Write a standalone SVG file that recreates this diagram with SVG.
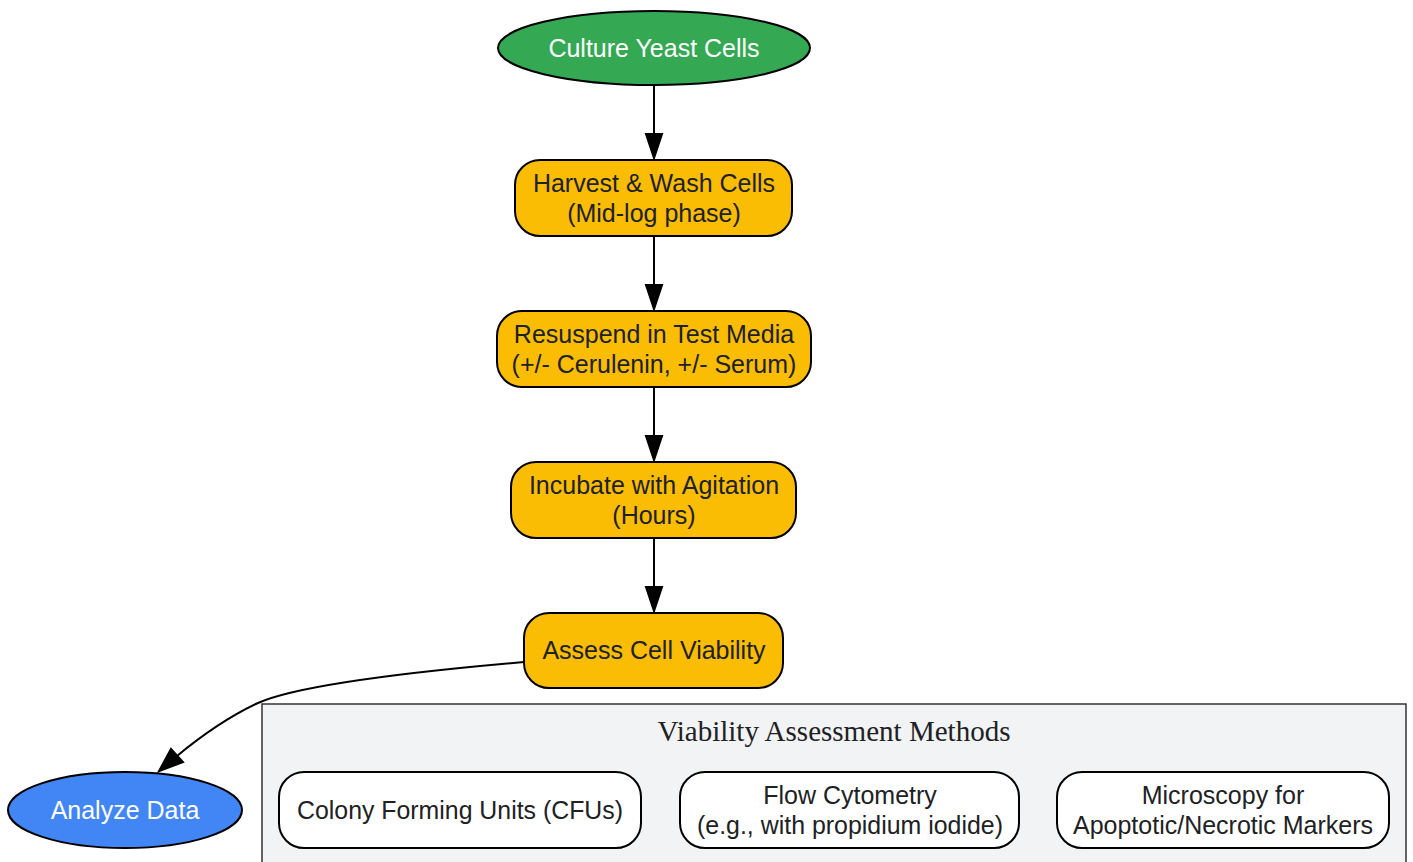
<svg xmlns="http://www.w3.org/2000/svg" width="1413" height="862" viewBox="0 0 1413 862">
<style>
.n{stroke:#000;stroke-width:2}
.o{fill:#fbbc04}
.w{fill:#fff}
.t{font-family:"Liberation Sans",Arial,sans-serif;font-size:25px;fill:#202124;text-anchor:middle}
.tw{font-family:"Liberation Sans",Arial,sans-serif;font-size:25px;fill:#fff;text-anchor:middle}
.e{fill:none;stroke:#000;stroke-width:2}
.h{fill:#000;stroke:#000;stroke-width:2}
</style>
<rect width="1413" height="862" fill="#fff"/>
<g id="cluster">
<rect x="262" y="704" width="1144" height="170" fill="#f1f3f4" stroke="#333" stroke-width="1.5"/>
<text x="834" y="741" font-family="'Liberation Serif','Times New Roman',serif" font-size="29" fill="#202124" text-anchor="middle" textLength="353" lengthAdjust="spacingAndGlyphs">Viability Assessment Methods</text>
</g>
<g id="edges">
<path class="e" d="M654,85 V134"/>
<polygon class="h" points="646,134 662,134 654,158"/>
<path class="e" d="M654,236 V285"/>
<polygon class="h" points="646,285 662,285 654,309"/>
<path class="e" d="M654,387 V436"/>
<polygon class="h" points="646,436 662,436 654,460"/>
<path class="e" d="M654,538 V587"/>
<polygon class="h" points="646,587 662,587 654,611"/>
<path class="e" d="M524,662 C420,671 300,684 258,703 C228,717 200,737 177,756"/>
<polygon class="h" points="171,749 183,762 159,771"/>
</g>
<g id="culture">
<ellipse class="n" cx="654" cy="48" rx="156" ry="37" fill="#34a853"/>
<text class="tw" x="654" y="57">Culture Yeast Cells</text>
</g>
<g id="harvest">
<rect class="n o" x="515" y="160" width="277" height="76" rx="25"/>
<text class="t" x="654" y="192">Harvest &amp; Wash Cells</text>
<text class="t" x="654" y="222">(Mid-log phase)</text>
</g>
<g id="resuspend">
<rect class="n o" x="497" y="311" width="314" height="76" rx="25"/>
<text class="t" x="654" y="343">Resuspend in Test Media</text>
<text class="t" x="654" y="373">(+/- Cerulenin, +/- Serum)</text>
</g>
<g id="incubate">
<rect class="n o" x="511" y="462" width="285" height="76" rx="25"/>
<text class="t" x="654" y="494">Incubate with Agitation</text>
<text class="t" x="654" y="524">(Hours)</text>
</g>
<g id="assess">
<rect class="n o" x="524" y="613" width="259" height="75" rx="25"/>
<text class="t" x="654" y="659">Assess Cell Viability</text>
</g>
<g id="analyze">
<ellipse class="n" cx="125" cy="810" rx="117" ry="38" fill="#4285f4"/>
<text class="tw" x="125" y="819">Analyze Data</text>
</g>
<g id="cfu">
<rect class="n w" x="279" y="772" width="362" height="76" rx="25"/>
<text class="t" x="460" y="819" textLength="326" lengthAdjust="spacingAndGlyphs">Colony Forming Units (CFUs)</text>
</g>
<g id="flow">
<rect class="n w" x="680" y="772" width="339" height="76" rx="25"/>
<text class="t" x="850" y="804">Flow Cytometry</text>
<text class="t" x="850" y="834" textLength="306" lengthAdjust="spacingAndGlyphs">(e.g., with propidium iodide)</text>
</g>
<g id="micro">
<rect class="n w" x="1057" y="772" width="332" height="76" rx="25"/>
<text class="t" x="1223" y="804">Microscopy for</text>
<text class="t" x="1223" y="834" textLength="300" lengthAdjust="spacingAndGlyphs">Apoptotic/Necrotic Markers</text>
</g>
</svg>
